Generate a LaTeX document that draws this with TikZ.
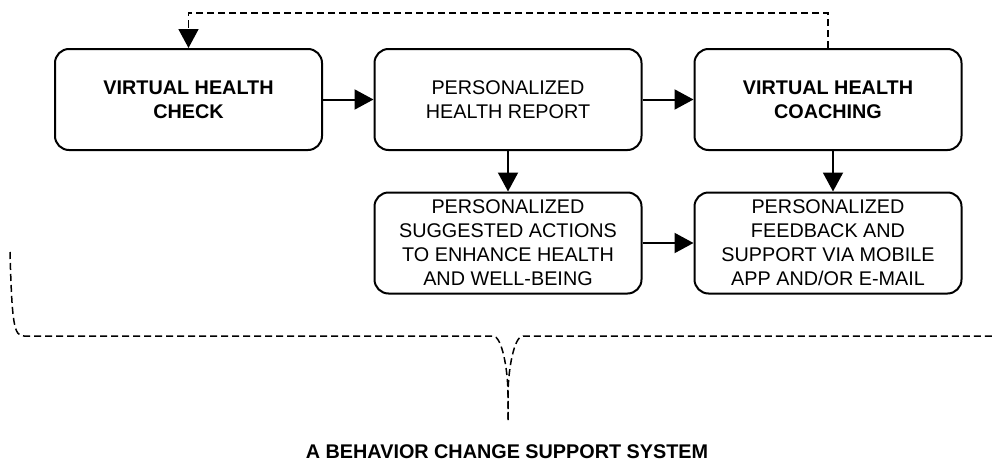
\documentclass[tikz,border=0pt]{standalone}
\usepackage{fontspec}
\setmainfont{Liberation Sans}
\usetikzlibrary{arrows.meta}
\begin{document}
\begin{tikzpicture}[x=1pt,y=-1pt,
  box/.style={draw,line width=2pt,rounded corners=14pt,minimum width=267pt,minimum height=101pt,align=center,inner sep=0pt,font=\fontsize{19.8}{24}\selectfont},
  bbox/.style={box,font=\fontsize{19.8}{24}\selectfont\bfseries},
  conn/.style={line width=2pt,-{Triangle[length=19pt,width=20pt]}},
  dconn/.style={line width=1.7pt,dash pattern=on 7pt off 4pt},
]
\useasboundingbox (0,0) rectangle (995,463);
\node[bbox] (b1) at (188.5,99.5) {VIRTUAL HEALTH\\CHECK};
\node[box]  (b2) at (508,99.5) {PERSONALIZED\\HEALTH REPORT};
\node[bbox] (b3) at (828,99.5) {VIRTUAL HEALTH\\COACHING};
\node[box]  (b4) at (508,243) {PERSONALIZED\\SUGGESTED ACTIONS\\TO ENHANCE HEALTH\\AND WELL-BEING};
\node[box]  (b5) at (828,243) {PERSONALIZED\\FEEDBACK AND\\SUPPORT VIA MOBILE\\APP AND/OR E-MAIL};
\draw[conn] (b1) -- (b2);
\draw[conn] (b2) -- (b3);
\draw[conn] (b2) -- (b4);
\draw[conn] ([xshift=5pt]b3.south) -- ([xshift=5pt]b5.north);
\draw[conn] (b4) -- (b5);
\coordinate (t3) at (828,13);
\coordinate (t1) at (188.5,13);
\draw[dconn,-{Triangle[length=19pt,width=20pt]}] (b3.north) -- (t3) -- (t1) -- (b1.north);
\coordinate (bl) at (10,252);
\coordinate (bt) at (508,420);
\coordinate (br) at (995,334);
\draw[dconn,line width=1.5pt] (bl) .. controls (12,325) and (14,336) .. (24,336) -- (493,336)
  .. controls (502,336) and (508,370) .. (508,395) -- (bt);
\draw[dconn,line width=1.5pt] (bt) -- (508,395) .. controls (508,370) and (514,336) .. (523,336) -- (993,336) -- (br);
\node[font=\fontsize{19.8}{24}\selectfont\bfseries,anchor=base,inner sep=0pt] (lab) at (507,458) {A BEHAVIOR CHANGE SUPPORT SYSTEM};
\end{tikzpicture}
\end{document}
